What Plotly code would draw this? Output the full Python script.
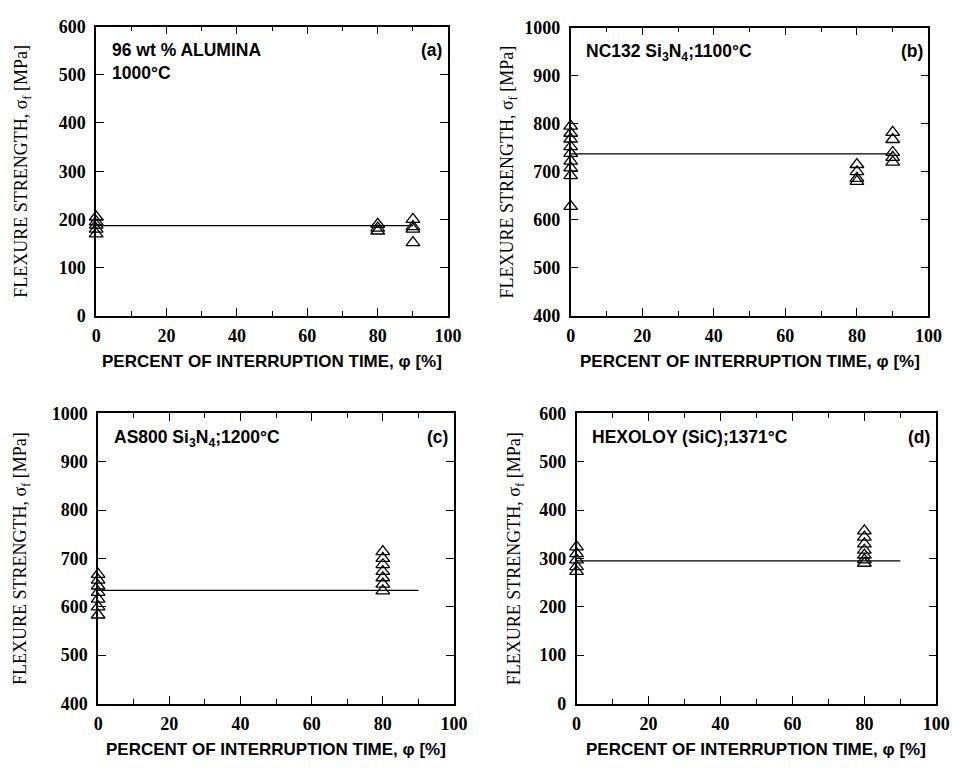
import plotly.graph_objects as go

# ---------------- data ----------------
# (a) 96 wt % alumina, 1000 C
a_x0 = [205, 195, 188, 180, 170]
a_x80 = [190, 182, 176]
a_x90 = [200, 185, 180, 152]
a_mean = 187

# (b) NC132 Si3N4, 1100 C
b_x0 = [795, 780, 768, 752, 738, 722, 708, 692, 628]
b_x80 = [715, 700, 686, 680]
b_x90 = [782, 767, 740, 730, 720]
b_mean = 737

# (c) AS800 Si3N4, 1200 C
c_x0 = [667, 655, 643, 630, 616, 600, 583]
c_x80 = [714, 700, 687, 673, 660, 647, 633]
c_mean = 634

# (d) Hexoloy SiC, 1371 C
d_x0 = [324, 310, 297, 283, 273]
d_x80 = [357, 344, 330, 317, 307, 297, 290]
d_mean = 295

mean_line_x = [0, 90]

panel_labels = ["(a)", "(b)", "(c)", "(d)"]
panel_titles = ["96 wt % ALUMINA<br>1000°C",
                "NC132 Si<sub>3</sub>N<sub>4</sub>;1100°C",
                "AS800 Si<sub>3</sub>N<sub>4</sub>;1200°C",
                "HEXOLOY (SiC);1371°C"]
y_ranges = [[0, 600], [400, 1000], [400, 1000], [0, 600]]
x_title = "PERCENT OF INTERRUPTION TIME, φ [%]"
y_title = "FLEXURE STRENGTH, σ<sub>f</sub> [MPa]"

# ---------------- layout geometry (pixels) ----------------
W, H = 967, 772
boxes = [  # left, right, top, bottom
    (93, 452, 17, 314),
    (577, 942, 18, 314),
    (95, 458, 414, 712),
    (583, 950, 414, 712),
]
ytitle_x = [18, 514, 17, 521]

panels = [
    [(0, a_x0), (80, a_x80), (90, a_x90)],
    [(0, b_x0), (80, b_x80), (90, b_x90)],
    [(0, c_x0), (80, c_x80)],
    [(0, d_x0), (80, d_x80)],
]
means = [a_mean, b_mean, c_mean, d_mean]

fig = go.Figure()
serif = "Liberation Serif, Times New Roman, serif"
sans = "Liberation Sans, Arial, sans-serif"

annotations = []
for i, (pts, m) in enumerate(zip(panels, means)):
    n = "" if i == 0 else str(i + 1)
    xa, ya = "x" + n, "y" + n
    xs, ys = [], []
    for xv, vals in pts:
        xs += [xv] * len(vals)
        ys += vals
    fig.add_trace(go.Scatter(
        x=mean_line_x, y=[m, m], mode="lines",
        line=dict(color="black", width=1.3),
        xaxis=xa, yaxis=ya, showlegend=False, hoverinfo="skip"))
    fig.add_trace(go.Scatter(
        x=xs, y=ys, mode="markers",
        marker=dict(symbol="triangle-up-open", size=12, color="black",
                    line=dict(width=1.3, color="black")),
        cliponaxis=False, xaxis=xa, yaxis=ya, showlegend=False))

    l, r, t, b = boxes[i]
    axis_common = dict(
        showline=True, linecolor="black", linewidth=1.6, mirror="ticks",
        ticks="inside", ticklen=8, tickwidth=1.3, tickcolor="black",
        showgrid=False, zeroline=False,
        tickfont=dict(family=serif, size=18, color="black", weight="bold"),
    )
    fig.layout["xaxis" + n] = dict(
        axis_common, domain=[l / W, r / W], range=[0, 100], dtick=20,
        anchor=ya,
        minor=dict(dtick=10, ticks="inside", ticklen=5, tickwidth=1.2,
                   tickcolor="black", showgrid=False),
        ticklabelstandoff=3,
    )
    fig.layout["yaxis" + n] = dict(
        axis_common, domain=[1 - b / H, 1 - t / H], range=y_ranges[i],
        dtick=100, anchor=xa, ticklabelstandoff=5,
    )
    annotations.append(dict(
        text=x_title, xref="paper", yref="paper",
        x=(l + r) / 2 / W, y=1 - (b + 47) / H, xanchor="center", yanchor="middle",
        showarrow=False, font=dict(family=sans, size=17, color="black", weight="bold")))
    annotations.append(dict(
        text=y_title, xref="paper", yref="paper", textangle=-90,
        x=ytitle_x[i] / W, y=1 - (t + b) / 2 / H, xanchor="center", yanchor="middle",
        showarrow=False, font=dict(family=serif, size=18, color="black")))
    annotations.append(dict(
        text=panel_titles[i], xref="paper", yref="paper", align="left",
        x=(l + 14) / W, y=1 - (t + 12) / H, xanchor="left", yanchor="top",
        showarrow=False, font=dict(family=sans, size=17.5, color="black", weight="bold")))
    annotations.append(dict(
        text=panel_labels[i], xref="paper", yref="paper",
        x=(r - 4) / W, y=1 - (t + 12) / H, xanchor="right", yanchor="top",
        showarrow=False, font=dict(family=sans, size=17.5, color="black", weight="bold")))

fig.update_layout(
    width=W, height=H, margin=dict(l=0, r=0, t=0, b=0),
    plot_bgcolor="white", paper_bgcolor="white",
    annotations=annotations,
)
fig.write_html("out.html", config={"displayModeBar": False},
               post_script="document.body.style.margin='0';")
